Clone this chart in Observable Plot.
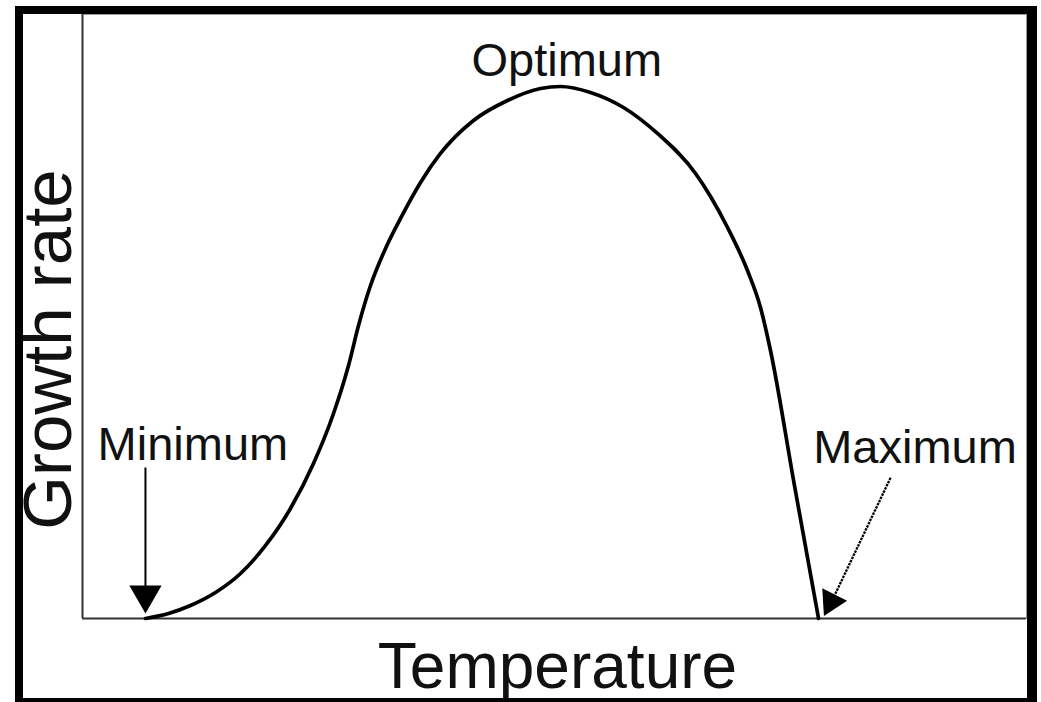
<!DOCTYPE html>
<html><head><meta charset="utf-8">
<script src="https://cdn.jsdelivr.net/npm/d3@7"></script>
<script src="https://cdn.jsdelivr.net/npm/@observablehq/plot@0.6"></script>
<style>
html,body{margin:0;padding:0;background:#fff;width:1041px;height:702px;overflow:hidden;}
#border{position:absolute;left:15px;top:6px;width:1022px;height:700px;box-sizing:border-box;border-style:solid;border-color:#000;border-width:8px 10px 8px 8px;pointer-events:none;}
#chart{position:absolute;left:23px;top:14px;}
</style></head><body>
<div id="chart"></div>
<div id="border"></div>
<script>
// Growth-rate curve (arbitrary units)
const temperature = [6.67, 9.11, 11.44, 14.09, 16.74, 19.39, 22.03, 24.47, 26.59, 28.18, 29.24, 30.51, 32.10, 33.69, 35.81, 37.92, 41.42, 45.02, 48.52, 50.64, 53.81, 57.31, 60.91, 64.94, 66.53, 68.33, 70.44, 71.82, 72.88, 75.42, 77.97];
const growthRate  = [0, 0.83, 2.15, 4.30, 7.45, 12.09, 18.21, 25.66, 33.94, 41.89, 48.51, 55.13, 61.26, 66.23, 72.19, 76.99, 82.45, 85.76, 87.75, 88.08, 87.09, 84.60, 80.30, 73.68, 69.87, 64.74, 57.62, 51.49, 44.37, 22.02, 0];

// Annotation labels
const labelText = ["Optimum", "Minimum", "Maximum"];
const labelTemp = [51.3, 1.6, 77.4];
const labelGrowth = [89.9, 26.3, 25.7];
const labelAnchor = ["middle", "start", "start"];

// Annotation arrows (shaft start -> shaft end, arrowhead centre)
const arrowName = ["Minimum", "Maximum"];
const arrowTemp1 = [6.67, 85.6];
const arrowGrowth1 = [25.0, 23.3];
const arrowTemp2 = [6.67, 79.6];
const arrowGrowth2 = [4.6, 3.6];
const headTemp = [6.67, 79.3];
const headGrowth = [3.9, 2.8];

const xTitle = "Temperature";
const yTitle = "Growth rate";

const curve = temperature.map((t, i) => ({t, g: growthRate[i]}));
const labels = labelText.map((s, i) => ({s, t: labelTemp[i], g: labelGrowth[i], a: labelAnchor[i]}));
const arrows = arrowName.map((n, i) => ({n, t1: arrowTemp1[i], g1: arrowGrowth1[i], t2: arrowTemp2[i], g2: arrowGrowth2[i], ht: headTemp[i], hg: headGrowth[i]}));

const font = "'Liberation Sans', Arial, Helvetica, sans-serif";

const chart = Plot.plot({
  width: 1004,
  height: 684,
  marginLeft: 59,
  marginRight: 1,
  marginTop: 0,
  marginBottom: 80,
  style: {fontFamily: font, background: "#fff", overflow: "visible"},
  x: {domain: [0, 100], axis: null},
  y: {domain: [0, 100], axis: null},
  marks: [
    Plot.frame({stroke: "#999", strokeWidth: 1}),
    Plot.ruleX([0], {stroke: "#333", strokeWidth: 2}),
    Plot.ruleY([0], {stroke: "#333", strokeWidth: 2}),
    Plot.line(curve, {x: "t", y: "g", curve: "monotone-x", stroke: "#000", strokeWidth: 3.7}),
    Plot.link(arrows.filter(d => d.n === "Minimum"), {x1: "t1", y1: "g1", x2: "t2", y2: "g2", stroke: "#000", strokeWidth: 2}),
    Plot.link(arrows.filter(d => d.n === "Maximum"), {x1: "t1", y1: "g1", x2: "t2", y2: "g2", stroke: "#000", strokeWidth: 2.3, strokeDasharray: "2.5,1"}),
    Plot.dot(arrows.filter(d => d.n === "Minimum"), {x: "ht", y: "hg", symbol: "triangle", r: 12, fill: "#000", stroke: "none", rotate: 180}),
    Plot.dot(arrows.filter(d => d.n === "Maximum"), {x: "ht", y: "hg", symbol: "triangle", r: 10.3, fill: "#000", stroke: "none", rotate: 206.6}),
    Plot.text(labels, {x: "t", y: "g", text: "s", textAnchor: "start", filter: d => d.a === "start", lineAnchor: "bottom", fontSize: 47, fill: "#111"}),
    Plot.text(labels, {x: "t", y: "g", text: "s", textAnchor: "middle", filter: d => d.a === "middle", lineAnchor: "bottom", fontSize: 47, fill: "#111"}),
    Plot.text([xTitle], {frameAnchor: "bottom", text: d => d, lineAnchor: "bottom", dy: 69, dx: 3, fontSize: 64, fill: "#111"}),
    Plot.text([yTitle], {frameAnchor: "left", text: d => d, rotate: -90, lineAnchor: "bottom", textAnchor: "middle", dx: -12, dy: 33, fontSize: 69, fill: "#111"})
  ]
});
document.getElementById("chart").appendChild(chart);
</script>
</body></html>
